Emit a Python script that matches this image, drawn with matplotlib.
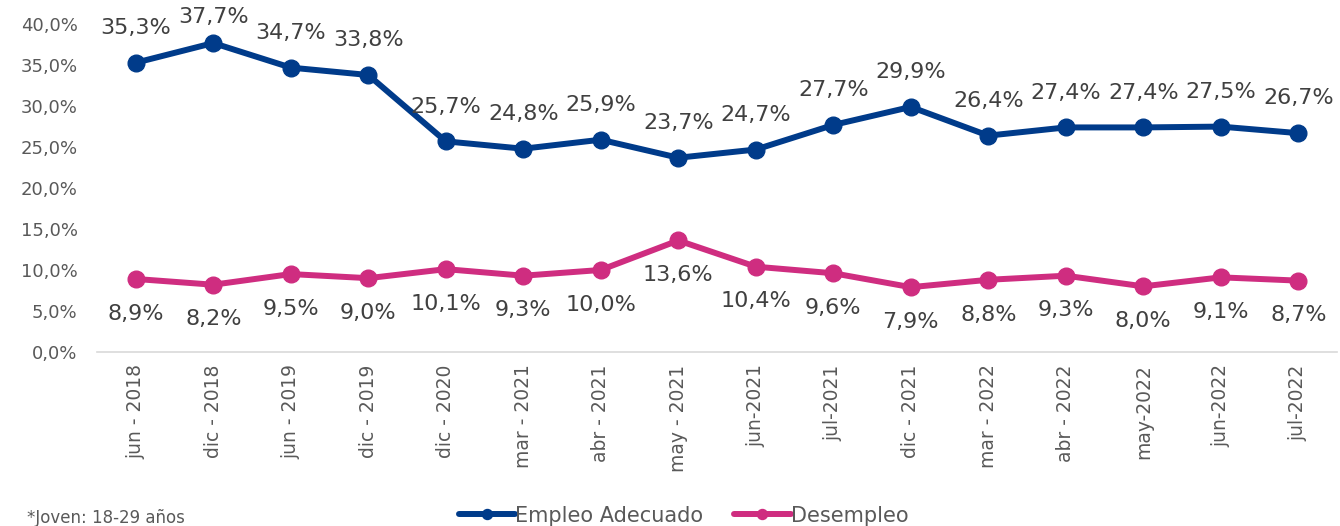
import matplotlib
matplotlib.use("Agg")
import matplotlib.pyplot as plt

# Datos (porcentaje, jovenes 18-29 anios)
periodos = ["jun - 2018", "dic - 2018", "jun - 2019", "dic - 2019", "dic - 2020",
            "mar - 2021", "abr - 2021", "may - 2021", "jun-2021", "jul-2021",
            "dic - 2021", "mar - 2022", "abr - 2022", "may-2022", "jun-2022", "jul-2022"]
empleo_adecuado = [35.3, 37.7, 34.7, 33.8, 25.7, 24.8, 25.9, 23.7, 24.7, 27.7,
                   29.9, 26.4, 27.4, 27.4, 27.5, 26.7]
desempleo = [8.9, 8.2, 9.5, 9.0, 10.1, 9.3, 10.0, 13.6, 10.4, 9.6,
             7.9, 8.8, 9.3, 8.0, 9.1, 8.7]
y_ticks = [0, 5, 10, 15, 20, 25, 30, 35, 40]

AZUL = "#003B8A"
MAGENTA = "#CF2D80"
TEXTO = "#404040"
GRIS = "#595959"


def pct(v):
    return f"{v:.1f}%".replace(".", ",")


fig = plt.figure(figsize=(13.4, 5.26), dpi=100)
ax = fig.add_axes([0.0724, 0.331, 0.9254, 0.623])

x = list(range(len(periodos)))
ax.plot(x, empleo_adecuado, color=AZUL, lw=4.3, marker="o", ms=12,
        label="Empleo Adecuado", solid_capstyle="round")
ax.plot(x, desempleo, color=MAGENTA, lw=4.3, marker="o", ms=12,
        label="Desempleo", solid_capstyle="round")

# etiquetas de datos (la mas alta se acerca al punto para no salirse)
for xi, v in zip(x, empleo_adecuado):
    dy = 19 if v > 37 else 25
    ax.annotate(pct(v), (xi, v), xytext=(0, dy), textcoords="offset points",
                ha="center", va="center", fontsize=16, color=TEXTO)
for xi, v in zip(x, desempleo):
    ax.annotate(pct(v), (xi, v), xytext=(0, -25), textcoords="offset points",
                ha="center", va="center", fontsize=16, color=TEXTO)

ax.set_xlim(-0.5, len(periodos) - 0.5)
ax.set_ylim(0, 40)
ax.set_yticks(y_ticks)
ax.set_yticklabels([pct(v) for v in y_ticks], fontsize=13, color=GRIS)
ax.set_xticks(x)
ax.set_xticklabels(periodos, rotation=90, fontsize=13.5, color=GRIS)
ax.tick_params(axis="both", length=0)
ax.tick_params(axis="y", pad=14)
ax.tick_params(axis="x", pad=9)

for s in ["top", "right", "left"]:
    ax.spines[s].set_visible(False)
ax.spines["bottom"].set_color("#D9D9D9")
ax.spines["bottom"].set_linewidth(1.2)

fig.legend(loc="lower center", bbox_to_anchor=(0.51, -0.035), ncol=2,
           frameon=False, fontsize=15, handlelength=2.7, handletextpad=0.0,
           columnspacing=1.5, labelcolor=GRIS, markerscale=0.6)
fig.text(0.02, -0.002, "*Joven: 18-29 años", fontsize=12, color=GRIS,
         ha="left", va="bottom")

fig.savefig("out.png", dpi=100)
